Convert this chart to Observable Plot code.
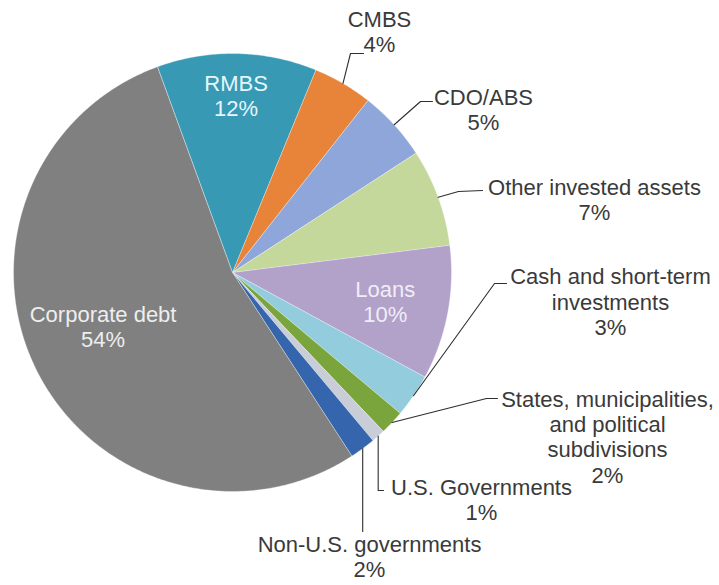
<!DOCTYPE html>
<html><head><meta charset="utf-8">
<script src="https://cdn.jsdelivr.net/npm/d3@7"></script>
<script src="https://cdn.jsdelivr.net/npm/@observablehq/plot@0.6"></script>
<style>
html,body{margin:0;padding:0;background:#fff;}
#chart svg{display:block;}
</style>
</head><body><div id="chart"></div>
<script>
// ---- data ----
const categories = ["RMBS","CMBS","CDO/ABS","Other invested assets","Loans",
  "Cash and short-term investments","States, municipalities, and political subdivisions",
  "U.S. Governments","Non-U.S. governments","Corporate debt"];
const values = [11.8, 4.4, 5.2, 7.2, 9.9, 3.2, 1.8, 1.0, 1.9, 53.6];
const labels = ["RMBS\n12%","CMBS\n4%","CDO/ABS\n5%","Other invested assets\n7%","Loans\n10%",
  "Cash and short-term\ninvestments\n3%","States, municipalities,\nand political\nsubdivisions\n2%",
  "U.S. Governments\n1%","Non-U.S. governments\n2%","Corporate debt\n54%"];
const colors = ["#3799b4","#e8843a","#8ea6d9","#c4d89c","#b2a1c9","#93cddd","#7aa53c","#c9cdd8","#3465ad","#808080"];

// ---- layout ----
const W = 719, H = 585, cx = 232, cy = 272, R = 219, startDeg = -20.1;
const rad = d => d * Math.PI / 180;
const pt = (a, r) => [cx + r * Math.sin(a), cy - r * Math.cos(a)];

const arcs = d3.pie().sort(null).startAngle(rad(startDeg)).endAngle(rad(startDeg) + 2 * Math.PI)(values);

// slice polygons
const polys = arcs.flatMap((a, i) => {
  const pts = [{c: categories[i], x: cx, y: cy}];
  const n = Math.max(2, Math.ceil((a.endAngle - a.startAngle) / rad(0.5)));
  for (let k = 0; k <= n; k++) {
    const [x, y] = pt(a.startAngle + (a.endAngle - a.startAngle) * k / n, R);
    pts.push({c: categories[i], x, y});
  }
  return pts;
});

// inside labels: radius fraction and angle tweak (deg)
const inside = {"RMBS": {r: 0.81, da: 0, fill: "#e6f6fa"}, "Loans": {r: 0.71, da: 0, fill: "#f1edf7"}, "Corporate debt": {r: 0.64, da: 4, fill: "#eeeeee"}};
// outside labels: text block centre + leader elbow/end
const outside = {
  "CMBS": {tx: 379, ty: 31, path: [[350, 53], [363, 53]]},
  "CDO/ABS": {tx: 483, ty: 109, path: [[420, 101], [432, 101]]},
  "Other invested assets": {tx: 594, ty: 199, path: [[458, 191], [482, 190]]},
  "Cash and short-term investments": {tx: 610, ty: 301, path: [[494, 283], [506, 283]]},
  "States, municipalities, and political subdivisions": {tx: 607, ty: 436, path: [[486, 398], [497, 398]]},
  "U.S. Governments": {tx: 481, ty: 499, path: [["rim", 490], [383, 490]]},
  "Non-U.S. governments": {tx: 369, ty: 556, path: [["rim", 531]]}
};

const insideText = [], outsideText = [], leaders = [];
arcs.forEach((a, i) => {
  const c = categories[i];
  const mid = (a.startAngle + a.endAngle) / 2;
  if (inside[c]) {
    const L = inside[c];
    const [x, y] = pt(mid + rad(L.da), L.r * R);
    insideText.push({c, x, y, t: labels[i], fill: L.fill});
  } else if (outside[c]) {
    const L = outside[c];
    const [rx, ry] = pt(mid, R);
    leaders.push({c, x: rx, y: ry});
    L.path.forEach(([x, y]) => leaders.push({c, x: x === "rim" ? rx : x, y}));
    outsideText.push({c, x: L.tx, y: L.ty, t: labels[i]});
  }
});

const font = "'Liberation Sans', Arial, sans-serif";
const chart = Plot.plot({
  width: W, height: H, margin: 0,
  style: {fontFamily: font, background: "#fff"},
  x: {domain: [0, W], range: [0, W], axis: null},
  y: {domain: [0, H], range: [0, H], axis: null},
  color: {domain: categories, range: colors},
  marks: [
    Plot.line(polys, {x: "x", y: "y", z: "c", fill: "c", stroke: "#ffffff", strokeWidth: 0.7, strokeOpacity: 0.5, curve: "linear-closed"}),
    Plot.line(leaders, {x: "x", y: "y", z: "c", stroke: "#2e2e2e", strokeWidth: 1.1}),
    Plot.text(insideText, {x: "x", y: "y", text: "t", fill: d => d.fill, fontSize: 22, lineHeight: 1.17, textAnchor: "middle", lineAnchor: "middle"}),
    Plot.text(outsideText, {x: "x", y: "y", text: "t", fill: "#3a3a3a", fontSize: 22, lineHeight: 1.15, textAnchor: "middle", lineAnchor: "middle"})
  ]
});
document.getElementById("chart").appendChild(chart);
</script>
</body></html>
